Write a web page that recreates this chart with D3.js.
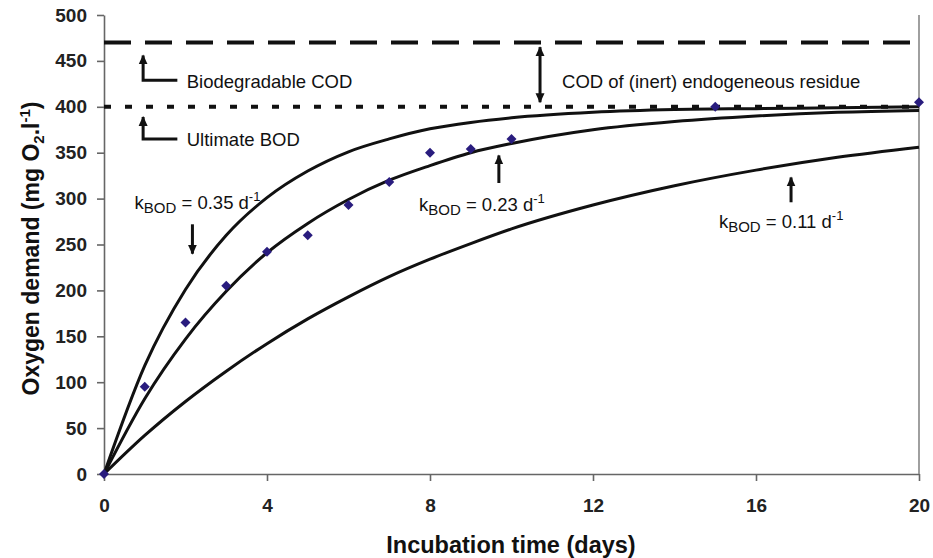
<!DOCTYPE html>
<html lang="en">
<head>
    <meta charset="UTF-8">
    <title>BOD curves</title>
    <script src="https://d3js.org/d3.v7.min.js"></script>
    <style>
        body { margin: 0; background-color: #fff; }
        text { font-family: "Liberation Sans", Arial, sans-serif; fill: #111; }
        .axis path, .axis line { stroke: #666; stroke-width: 1.6; }
        .axis text { font-size: 19px; font-weight: bold; fill: #222; }
        .fit { fill: none; stroke: #111; stroke-width: 3; }
        .note { font-size: 18.5px; }
        .pointer { fill: none; stroke: #111; stroke-width: 3; }
    </style>
</head>
<body>
    <div id="chart"></div>
    <script type="text/javascript">
        // fitted curves
        const days = [0, 1, 2, 3, 4, 5, 6, 7, 8, 9, 10, 12, 14, 16, 18, 20];
        const fit035 = [0, 118, 201, 260, 301, 330, 351, 365, 376, 383, 388, 394, 397, 398, 399, 400];
        const fit023 = [0, 82, 147, 199, 241, 273, 299, 320, 336, 350, 360, 375, 384, 390, 394, 396];
        const fit011 = [0, 42, 79, 112, 142, 169, 193, 215, 234, 251, 267, 293, 314, 331, 345, 356];
        // measured BOD
        const obsDays = [0, 1, 2, 3, 4, 5, 6, 7, 8, 9, 10, 15, 20];
        const obsBOD = [0, 95, 165, 205, 242, 260, 293, 318, 350, 354, 365, 400, 405];
        const codLevel = 470, bodLevel = 400;
        const xTicks = [0, 4, 8, 12, 16, 20];
        const yTicks = d3.range(0, 501, 50);

        const margin = {top: 15, right: 14, bottom: 84, left: 104},
              width = 933 - margin.left - margin.right,
              height = 558 - margin.top - margin.bottom;

        const x = d3.scaleLinear().domain([0, 20]).range([0, width]);
        const y = d3.scaleLinear().domain([0, 500]).range([height, 0]);

        const svg = d3.select("#chart").append("svg")
            .attr("width", 933)
            .attr("height", 558)
            .append("g")
            .attr("transform", "translate(" + margin.left + "," + margin.top + ")");

        svg.append("defs").append("marker")
            .attr("id", "head")
            .attr("viewBox", "0 -5 10 10")
            .attr("refX", 9)
            .attr("refY", 0)
            .attr("markerUnits", "userSpaceOnUse")
            .attr("markerWidth", 10)
            .attr("markerHeight", 10)
            .attr("orient", "auto-start-reverse")
            .append("path")
            .attr("d", "M0,-4.5L10,0L0,4.5Z")
            .attr("fill", "#111");

        // axes
        svg.append("g")
            .attr("class", "axis")
            .attr("transform", "translate(0," + height + ")")
            .call(d3.axisBottom(x).tickValues(xTicks).tickSize(7).tickSizeOuter(0).tickPadding(18));

        svg.append("g")
            .attr("class", "axis")
            .call(d3.axisLeft(y).tickValues(yTicks).tickSize(7).tickSizeOuter(0).tickPadding(10));

        svg.append("line")
            .attr("x1", x(20)).attr("x2", x(20))
            .attr("y1", y(500)).attr("y2", y(0))
            .attr("stroke", "#888").attr("stroke-width", 1.6);

        // reference levels
        svg.append("line")
            .attr("x1", x(0)).attr("x2", x(20))
            .attr("y1", y(codLevel)).attr("y2", y(codLevel))
            .attr("stroke", "#111").attr("stroke-width", 4)
            .attr("stroke-dasharray", "27,14");

        svg.append("line")
            .attr("x1", x(0)).attr("x2", x(20))
            .attr("y1", y(bodLevel)).attr("y2", y(bodLevel))
            .attr("stroke", "#111").attr("stroke-width", 4)
            .attr("stroke-dasharray", "7,14");

        // fitted curves
        const line = d3.line()
            .x((d, i) => x(days[i]))
            .y(d => y(d))
            .curve(d3.curveMonotoneX);

        [fit035, fit023, fit011].forEach(s => {
            svg.append("path").datum(s).attr("class", "fit").attr("d", line);
        });

        // observations
        svg.selectAll(".obs")
            .data(obsBOD)
            .join("path")
            .attr("class", "obs")
            .attr("d", d3.symbol(d3.symbolDiamond2, 64))
            .attr("transform", (d, i) => "translate(" + x(obsDays[i]) + "," + y(d) + ")")
            .attr("fill", "#291c7e");

        // pointers (data coordinates)
        const elbows = [
            {t: 0.96, tip: 456, corner: 429, end: 1.8},
            {t: 0.96, tip: 389, corner: 365, end: 1.8}
        ];
        elbows.forEach(e => {
            svg.append("path")
                .attr("class", "pointer")
                .attr("d", "M" + x(e.end) + "," + y(e.corner) + "H" + x(e.t) + "V" + y(e.tip))
                .attr("marker-end", "url(#head)");
        });

        const arrows = [
            {t: 2.17, from: 272, to: 240},
            {t: 9.69, from: 317, to: 347},
            {t: 16.86, from: 296, to: 323}
        ];
        arrows.forEach(a => {
            svg.append("line")
                .attr("class", "pointer")
                .attr("x1", x(a.t)).attr("x2", x(a.t))
                .attr("y1", y(a.from)).attr("y2", y(a.to))
                .attr("marker-end", "url(#head)");
        });

        svg.append("line")
            .attr("class", "pointer")
            .attr("x1", x(10.7)).attr("x2", x(10.7))
            .attr("y1", y(465)).attr("y2", y(405))
            .attr("marker-start", "url(#head)")
            .attr("marker-end", "url(#head)");

        // notes
        const notes = [
            {t: 2.03, v: 421, label: "Biodegradable COD"},
            {t: 2.03, v: 357, label: "Ultimate BOD"},
            {t: 11.24, v: 421, label: "COD of (inert) endogeneous residue"}
        ];
        notes.forEach(n => {
            svg.append("text").attr("class", "note")
                .attr("x", x(n.t)).attr("y", y(n.v))
                .text(n.label);
        });

        const rates = [
            {t: 0.75, v: 289, k: "0.35"},
            {t: 7.73, v: 287, k: "0.23"},
            {t: 15.09, v: 268, k: "0.11"}
        ];
        rates.forEach(r => {
            const txt = svg.append("text").attr("class", "note")
                .attr("x", x(r.t)).attr("y", y(r.v))
                .attr("font-size", 19.5);
            txt.append("tspan").text("k");
            txt.append("tspan").attr("dy", 4).attr("font-size", 15).text("BOD");
            txt.append("tspan").attr("dy", -4).text(" = " + r.k + " d");
            txt.append("tspan").attr("dy", -8).attr("font-size", 13).text("-1");
        });

        // axis titles
        svg.append("text")
            .attr("x", 407)
            .attr("y", height + 79)
            .attr("text-anchor", "middle")
            .attr("font-size", 23.5).attr("font-weight", "bold")
            .text("Incubation time (days)");

        const yt = svg.append("text")
            .attr("transform", "translate(" + (39 - margin.left) + "," + (height / 2 + 4) + ") rotate(-90)")
            .attr("text-anchor", "middle")
            .attr("font-size", 23).attr("font-weight", "bold");
        yt.append("tspan").text("Oxygen demand (mg O");
        yt.append("tspan").attr("dy", 5).attr("font-size", 15).text("2");
        yt.append("tspan").attr("dy", -5).text(".l");
        yt.append("tspan").attr("dy", -9).attr("font-size", 15).text("-1");
        yt.append("tspan").attr("dy", 9).text(")");
    </script>
</body>
</html>
